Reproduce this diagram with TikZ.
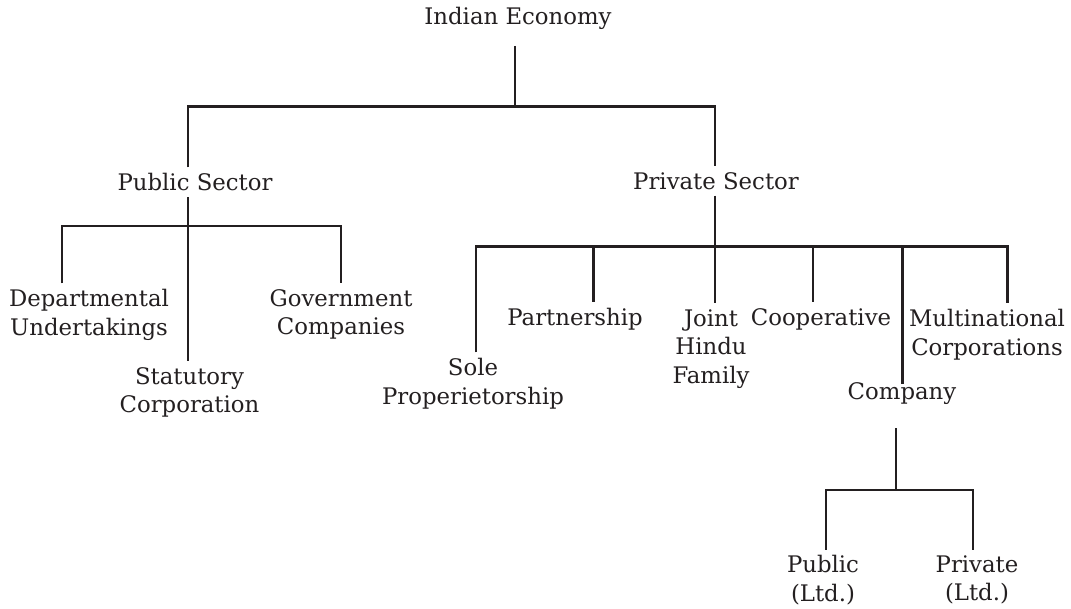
\documentclass[tikz,border=0pt]{standalone}
\usepackage{fontspec}
\setmainfont{DejaVu Serif}
\usepackage{xcolor}
\usepackage{tikz}
\usetikzlibrary{calc}
\definecolor{ink}{HTML}{231F20}

\begin{document}
\begin{tikzpicture}[x=1pt, y=-1pt, outer sep=0pt,
    lbl/.style={anchor=north, inner xsep=0pt, inner ysep=6pt, align=center, text=ink,
        font=\fontsize{22.8}{28.5}\selectfont},
    link/.style={draw=ink, line width=2.7pt, line join=miter}]
    \useasboundingbox (0,0) rectangle (1071,609);

    \node [lbl] (ie) at (518,1.5) {Indian Economy};
    \node [lbl] (pub) at (195,167.5) {Public Sector};
    \node [lbl] (priv) at (716,166.5) {Private Sector};

    \node [lbl] (dept) at (89,283.5) {Departmental\\Undertakings};
    \node [lbl] (gov) at (341,283.5) {Government\\Companies};
    \node [lbl] (stat) at (189.5,361.5) {Statutory\\Corporation};

    \node [lbl] (sole) at (473,352.5) {Sole\\Properietorship};
    \node [lbl] (part) at (575,302.5) {Partnership};
    \node [lbl] (jhf) at (711,303.5) {Joint\\Hindu\\Family};
    \node [lbl] (coop) at (821,302.5) {Cooperative};
    \node [lbl] (mnc) at (987,303.5) {Multinational\\Corporations};
    \node [lbl] (comp) at (902,376.5) {Company};

    \node [lbl] (publtd) at (823,549.5) {Public\\(Ltd.)};
    \node [lbl] (privltd) at (977,549.5) {Private\\(Ltd.)};

    \coordinate (top) at (515,106.5);
    \coordinate (pb) at (188,226);
    \coordinate (d1) at (62,226);
    \coordinate (g1) at (341,226);
    \coordinate (vb) at (715,246.7);
    \coordinate (s1) at (476,246.7);
    \coordinate (s2) at (593.6,246.7);
    \coordinate (s4) at (813,246.7);
    \coordinate (s5) at (902.7,246.7);
    \coordinate (s6) at (1007.7,246.7);
    \coordinate (c0) at (896,490);
    \coordinate (c1) at (826,490);
    \coordinate (c2) at (973,490);

    \draw [link, shorten <=10pt] (top |- ie.south) -- (top);
    \draw [link] (pub.north -| pb) |- (top) -| (priv.north -| vb);

    \draw [link] (pub.south -| pb) -- (stat.north -| pb);
    \draw [link] (d1 |- dept.north) -- (d1) -- (g1) -- (g1 |- gov.north);

    \draw [link] (priv.south -| vb) -- (jhf.north -| vb);
    \draw [link] (s1 |- sole.north) -- (s1) -- (s6) -- (s6 |- mnc.north);
    \draw [link] (s2) -- (s2 |- part.north);
    \draw [link] (s4) -- (s4 |- coop.north);
    \draw [link, shorten >=-8pt] (s5) -- (s5 |- comp.north);

    \draw [link, shorten <=18pt] (c0 |- comp.south) -- (c0);
    \draw [link] (c1 |- publtd.north) -- (c1) -- (c2) -- (c2 |- privltd.north);
\end{tikzpicture}
\end{document}
